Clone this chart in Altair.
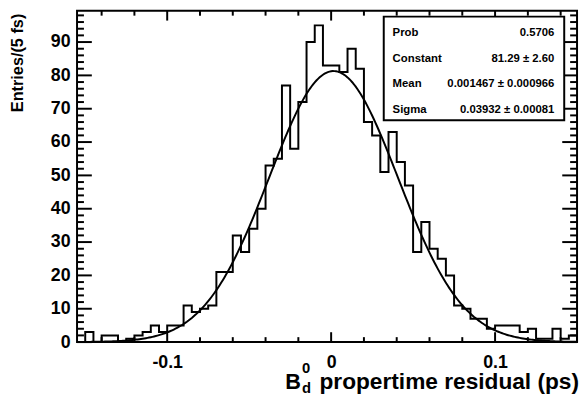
import altair as alt
import pandas as pd

# ---------------- data ----------------
bin_low = -0.15          # ps, left edge of first bin
bin_width = 0.005        # ps (5 fs)
counts = [3, 0, 2, 2, 0, 1, 2, 3, 5, 3,
          5, 5, 11, 9, 10, 11, 21, 21, 32, 27,
          34, 40, 53, 55, 77, 58, 72, 90, 95, 83,
          83, 81, 88, 82, 66, 62, 51, 63, 54, 47,
          27, 36, 28, 25, 20, 11, 10, 7, 7, 4,
          5, 5, 5, 3, 4, 1, 1, 4, 1, 2]

fit_constant = 81.29
fit_mean = 0.001467
fit_sigma = 0.03932

stats_labels = ["Prob", "Constant", "Mean", "Sigma"]
stats_values = ["0.5706", "81.29 \u00b1 2.60", "0.001467 \u00b1 0.000966", "0.03932 \u00b1 0.00081"]

x_major = [-0.1, 0.0, 0.1]
x_minor = [-0.14, -0.12, -0.08, -0.06, -0.04, -0.02, 0.02, 0.04, 0.06, 0.08, 0.12, 0.14]
y_major = [0, 10, 20, 30, 40, 50, 60, 70, 80, 90]
y_minor = [v for v in range(0, 100, 2) if v % 10 != 0]

x_title = "propertime residual (ps)"
y_title = "Entries/(5 fs)"

# ---------------- layout ----------------
W, H = 507, 336
FONT = "Liberation Sans"
xscale = alt.Scale(domain=[-0.155, 0.15], nice=False, zero=False)
yscale = alt.Scale(domain=[0, 99.4], nice=False, zero=False)
x_axis = alt.Axis(values=x_major, labelExpr="toString(datum.value)",
                  ticks=False, domain=False, grid=False, labelOverlap=False,
                  labelPadding=12, title=None)
y_axis = alt.Axis(values=y_major, ticks=False, domain=False, grid=False,
                  labelOverlap=False, labelPadding=7, title=None)

def X(field):
    return alt.X(field, scale=xscale, axis=x_axis)

def Y(field):
    return alt.Y(field, scale=yscale, axis=y_axis)

# step outline of the histogram
n = len(counts)
edges = [bin_low + bin_width * i for i in range(n + 1)]
pts_x = [edges[0]] + edges[:n] + [edges[n], edges[n]]
pts_y = [0] + counts + [counts[-1], 0]
hist_df = pd.DataFrame({"x": pts_x, "y": pts_y, "i": list(range(len(pts_x)))})

hist = alt.Chart(hist_df).mark_line(
    interpolate="step-after", color="black", strokeWidth=2
).encode(x=X("x:Q"), y=Y("y:Q"), order="i:Q")

fit = alt.Chart(alt.sequence(-0.15, 0.1502, 0.001, as_="x")).transform_calculate(
    y=f"{fit_constant}*exp(-0.5*pow((datum.x-{fit_mean})/{fit_sigma},2))"
).mark_line(color="black", strokeWidth=2).encode(x=X("x:Q"), y=Y("y:Q"))

# inward ticks on all four sides
def xticks(vals, length):
    df = pd.DataFrame({"v": vals})
    bottom = alt.Chart(df).mark_rule(color="black", strokeWidth=2).encode(
        x=X("v:Q"), y=alt.value(H), y2=alt.value(H - length))
    top = alt.Chart(df).mark_rule(color="black", strokeWidth=2).encode(
        x=X("v:Q"), y=alt.value(0), y2=alt.value(length))
    return [bottom, top]

def yticks(vals, length):
    df = pd.DataFrame({"v": vals})
    left = alt.Chart(df).mark_rule(color="black", strokeWidth=2).encode(
        y=Y("v:Q"), x=alt.value(0), x2=alt.value(length))
    right = alt.Chart(df).mark_rule(color="black", strokeWidth=2).encode(
        y=Y("v:Q"), x=alt.value(W), x2=alt.value(W - length))
    return [left, right]

tick_layers = xticks(x_major, 10) + xticks(x_minor, 5) + yticks(y_major, 15) + yticks(y_minor, 7)

# stats box
one = alt.Data(values=[{"a": 1}])
box = alt.Chart(one).mark_rect(fill="white", stroke="black", strokeWidth=2).encode(
    x=alt.value(311), x2=alt.value(494), y=alt.value(6), y2=alt.value(111))

stats_df = pd.DataFrame({"label": stats_labels, "value": stats_values,
                         "row": list(range(len(stats_labels)))})
stats_base = alt.Chart(stats_df).transform_calculate(py="25.5 + 26*datum.row")
stats_left = stats_base.mark_text(align="left", baseline="alphabetic", font=FONT,
                                  fontWeight="bold", fontSize=11.5, color="black").encode(
    x=alt.value(320), y=alt.Y("py:Q", scale=None), text="label:N")
stats_right = stats_base.mark_text(align="right", baseline="alphabetic", font=FONT,
                                   fontWeight="bold", fontSize=11.5, color="black").encode(
    x=alt.value(484), y=alt.Y("py:Q", scale=None), text="value:N")

# axis titles
xt_main = alt.Chart(one).mark_text(align="right", baseline="alphabetic", font=FONT,
                                   fontWeight="bold", fontSize=23, color="black").encode(
    x=alt.value(W + 2), y=alt.value(384), text=alt.value(x_title))
xt_B = alt.Chart(one).mark_text(align="right", baseline="alphabetic", font=FONT,
                                fontWeight="bold", fontSize=22, color="black").encode(
    x=alt.value(227), y=alt.value(384), text=alt.value("B"))
xt_sup = alt.Chart(one).mark_text(align="left", baseline="alphabetic", font=FONT,
                                  fontWeight="bold", fontSize=15, color="black").encode(
    x=alt.value(228), y=alt.value(367), text=alt.value("0"))
xt_sub = alt.Chart(one).mark_text(align="left", baseline="alphabetic", font=FONT,
                                  fontWeight="bold", fontSize=15, color="black").encode(
    x=alt.value(228), y=alt.value(388), text=alt.value("d"))
yt = alt.Chart(one).mark_text(align="right", baseline="middle", angle=270, font=FONT,
                              fontWeight="bold", fontSize=16.5, color="black").encode(
    x=alt.value(-60), y=alt.value(3), text=alt.value(y_title))

chart = alt.layer(
    hist, fit, *tick_layers, box, stats_left, stats_right,
    xt_main, xt_B, xt_sup, xt_sub, yt
).properties(
    width=W, height=H,
    autosize=alt.AutoSizeParams(type="none"),
    padding={"left": 70, "top": 0, "right": 3, "bottom": 58},
).configure_view(
    stroke="black", strokeWidth=2
).configure_axis(
    labelFont=FONT, labelFontWeight="bold", labelFontSize=18, labelColor="black"
)

chart.save("out.html", embed_options={"renderer": "svg", "actions": False})
